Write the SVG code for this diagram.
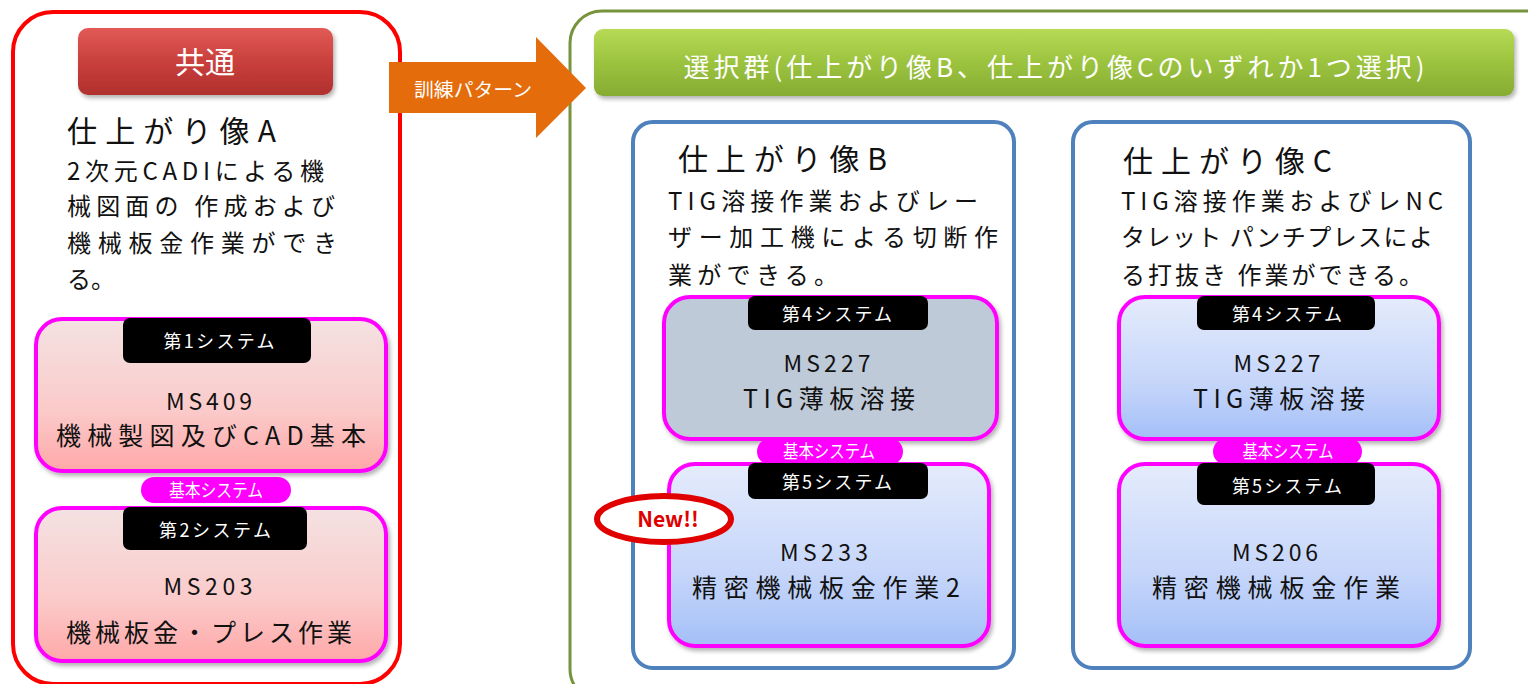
<svg xmlns="http://www.w3.org/2000/svg" width="1528" height="684" viewBox="0 0 1528 684">
<defs>
<linearGradient id="gRed" x1="0" y1="0" x2="0" y2="1"><stop offset="0" stop-color="#E25A55"/><stop offset="0.5" stop-color="#C9403C"/><stop offset="1" stop-color="#B0302E"/></linearGradient>
<linearGradient id="gGreen" x1="0" y1="0" x2="0" y2="1"><stop offset="0" stop-color="#B6DA55"/><stop offset="0.5" stop-color="#9CC33F"/><stop offset="1" stop-color="#86AC32"/></linearGradient>
<linearGradient id="gPink" x1="0" y1="0" x2="0" y2="1"><stop offset="0" stop-color="#F4E2E2"/><stop offset="0.6" stop-color="#FBCACA"/><stop offset="1" stop-color="#FFA8A8"/></linearGradient>
<linearGradient id="gBlue" x1="0" y1="0" x2="0" y2="1"><stop offset="0" stop-color="#E4EBFB"/><stop offset="0.6" stop-color="#C6D6FA"/><stop offset="1" stop-color="#A4BFF7"/></linearGradient>
<filter id="sh" x="-5%" y="-5%" width="112%" height="120%"><feDropShadow dx="2" dy="3" stdDeviation="2" flood-color="#000" flood-opacity="0.3"/></filter>
</defs>
<style>
text{font-family:"Noto Sans CJK JP","Noto Sans",sans-serif;}
.t{fill:#111;}
.title{font-size:30px;}
.desc{font-size:24px;}
.big{font-size:23px;text-anchor:middle;}
.big2{font-size:25px;text-anchor:middle;}
.lab{font-size:18px;fill:#fff;text-anchor:middle;}
.card{stroke:#FF00FF;stroke-width:4;filter:url(#sh);}
.blk{fill:#000;}
.pill{fill:#FF00FF;}
.cont{fill:#fff;stroke:#4F81BD;stroke-width:4;}
</style>
<rect width="1528" height="684" fill="#fff"/>

<g id="common">
<rect x="13" y="12" width="387" height="672" rx="40" fill="#fff" stroke="#FF0000" stroke-width="4"/>
<rect x="78" y="28" width="255" height="67" rx="10" fill="url(#gRed)" filter="url(#sh)"/>
<text x="205" y="73" font-size="30" fill="#fff" text-anchor="middle">共通</text>
<text class="t title" x="67" y="142" textLength="209" lengthAdjust="spacing">仕上がり像A</text>
<text class="t desc" x="67" y="180" textLength="257" lengthAdjust="spacing">2次元CADIによる機</text>
<text class="t desc" x="67" y="215" textLength="268" lengthAdjust="spacing">械図面の 作成および</text>
<text class="t desc" x="67" y="252" textLength="270" lengthAdjust="spacing">機械板金作業ができ</text>
<text class="t desc" x="67" y="288">る。</text>
</g>

<g id="ms409">
<rect class="card" x="36" y="319" width="350" height="152" rx="26" fill="url(#gPink)"/>
<rect class="blk" x="123" y="318" width="188" height="45" rx="7"/>
<text class="lab" x="219" y="348" textLength="111" lengthAdjust="spacing">第1システム</text>
<text class="t big" x="209" y="410" textLength="86" lengthAdjust="spacing">MS409</text>
<text class="t big2" x="211" y="445" textLength="310" lengthAdjust="spacing">機械製図及びCAD基本</text>
</g>

<g id="basic-a">
<rect class="pill" x="141" y="477" width="150" height="26" rx="13"/>
<text class="lab" x="216" y="497" font-size="17" textLength="94" lengthAdjust="spacingAndGlyphs">基本システム</text>
</g>

<g id="ms203">
<rect class="card" x="36" y="508" width="350" height="153" rx="26" fill="url(#gPink)"/>
<rect class="blk" x="123" y="507" width="184" height="43" rx="7"/>
<text class="lab" x="215" y="537" textLength="112" lengthAdjust="spacing">第2システム</text>
<text class="t big" x="208" y="595" textLength="89" lengthAdjust="spacing">MS203</text>
<text class="t big2" x="209" y="642" textLength="286" lengthAdjust="spacing">機械板金・プレス作業</text>
</g>

<g id="selection">
<rect x="570" y="11" width="990" height="690" rx="32" fill="#fff" stroke="#77933C" stroke-width="3"/>
<rect x="594" y="29" width="920" height="67" rx="9" fill="url(#gGreen)" filter="url(#sh)"/>
<text x="1054" y="77" font-size="26" fill="#fff" text-anchor="middle" textLength="741" lengthAdjust="spacing">選択群(仕上がり像B、仕上がり像Cのいずれか1つ選択)</text>
</g>

<g id="image-b">
<rect class="cont" x="633" y="122" width="381" height="546" rx="20"/>
<text class="t title" x="678" y="170" textLength="209" lengthAdjust="spacing">仕上がり像B</text>
<text class="t desc" x="668" y="210" textLength="310" lengthAdjust="spacing">TIG溶接作業およびレー</text>
<text class="t desc" x="668" y="246" textLength="330" lengthAdjust="spacing">ザー加工機による切断作</text>
<text class="t desc" x="668" y="284" textLength="170" lengthAdjust="spacing">業ができる。</text>
</g>

<g id="ms227-b">
<rect class="card" x="664" y="297" width="333" height="142" rx="26" fill="#BFCAD9"/>
<rect class="blk" x="748" y="296" width="180" height="34" rx="7"/>
<text class="lab" x="837" y="321" textLength="110" lengthAdjust="spacing">第4システム</text>
<text class="t big" x="827" y="372" textLength="87" lengthAdjust="spacing">MS227</text>
<text class="t big2" x="829" y="408" textLength="172" lengthAdjust="spacing">TIG薄板溶接</text>
</g>

<g id="basic-b">
<rect class="pill" x="757" y="438" width="146" height="27" rx="13.5"/>
<text class="lab" x="829" y="458" font-size="17" textLength="92" lengthAdjust="spacingAndGlyphs">基本システム</text>
</g>

<g id="ms233">
<rect class="card" x="669" y="464" width="320" height="182" rx="26" fill="url(#gBlue)"/>
<rect class="blk" x="748" y="463" width="180" height="36" rx="7"/>
<text class="lab" x="837" y="489" textLength="110" lengthAdjust="spacing">第5システム</text>
<text class="t big" x="824" y="561" textLength="88" lengthAdjust="spacing">MS233</text>
<text class="t big2" x="826" y="597" textLength="268" lengthAdjust="spacing">精密機械板金作業2</text>
</g>

<g id="new-badge">
<ellipse cx="664" cy="519" rx="67" ry="23" fill="#fff" stroke="#E00000" stroke-width="6"/>
<text x="668" y="527" font-size="21" font-weight="bold" fill="#E00000" text-anchor="middle" font-family="'Liberation Sans',Arial,sans-serif">New!!</text>
</g>

<g id="image-c">
<rect class="cont" x="1073" y="122" width="397" height="546" rx="20"/>
<text class="t title" x="1123" y="172" textLength="209" lengthAdjust="spacing">仕上がり像C</text>
<text class="t desc" x="1121" y="210" textLength="322" lengthAdjust="spacing">TIG溶接作業およびレNC</text>
<text class="t desc" x="1121" y="246" textLength="312" lengthAdjust="spacing">タレット パンチプレスによ</text>
<text class="t desc" x="1121" y="284" textLength="302" lengthAdjust="spacing">る打抜き 作業ができる。</text>
</g>

<g id="ms227-c">
<rect class="card" x="1119" y="297" width="320" height="142" rx="26" fill="url(#gBlue)"/>
<rect class="blk" x="1197" y="296" width="178" height="34" rx="7"/>
<text class="lab" x="1287" y="321" textLength="110" lengthAdjust="spacing">第4システム</text>
<text class="t big" x="1277" y="372" textLength="87" lengthAdjust="spacing">MS227</text>
<text class="t big2" x="1279" y="408" textLength="172" lengthAdjust="spacing">TIG薄板溶接</text>
</g>

<g id="basic-c">
<rect class="pill" x="1213" y="438" width="149" height="27" rx="13.5"/>
<text class="lab" x="1288" y="458" font-size="17" textLength="91" lengthAdjust="spacingAndGlyphs">基本システム</text>
</g>

<g id="ms206">
<rect class="card" x="1119" y="464" width="320" height="182" rx="26" fill="url(#gBlue)"/>
<rect class="blk" x="1197" y="463" width="178" height="42" rx="7"/>
<text class="lab" x="1287" y="493" textLength="110" lengthAdjust="spacing">第5システム</text>
<text class="t big" x="1275" y="561" textLength="86" lengthAdjust="spacing">MS206</text>
<text class="t big2" x="1276" y="597" textLength="248" lengthAdjust="spacing">精密機械板金作業</text>
</g>

<g id="connectors">
<path d="M389 62 H536 V37 L586 88 L536 138 V113 H389 Z" fill="#E46C0A"/>
<text x="473" y="97" font-size="19" fill="#fff" text-anchor="middle" textLength="118" lengthAdjust="spacingAndGlyphs">訓練パターン</text>
</g>
</svg>
